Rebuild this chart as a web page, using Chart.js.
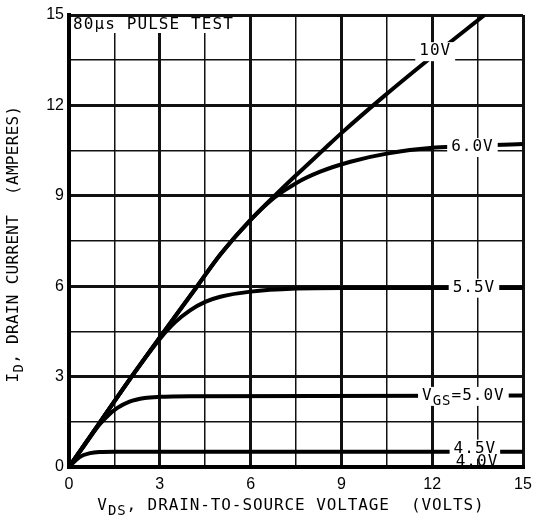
<!DOCTYPE html>
<html>
<head>
<meta charset="utf-8">
<script src="https://cdn.jsdelivr.net/npm/chart.js@4.4.0/dist/chart.umd.min.js"></script>
<style>
    html, body { margin: 0; padding: 0; background: #fff; }
</style>
</head>
<body>
<canvas id="caracteristique" width="535" height="522"></canvas>
<script>
// valeurs : VDS (volts) et ID (ampères) pour chaque VGS
var vds10 = [0, 1, 2, 3, 4.2, 5, 6, 7, 7.5, 8.4, 9, 10.4, 11.85, 13.73];
var id10  = [0, 1.45, 2.9, 4.3, 5.95, 7.05, 8.2, 9.2, 9.68, 10.52, 11.08, 12.3, 13.5, 15];

var vds60 = [0, 1, 2, 3, 4.2, 5, 6, 6.8, 7.5, 8.3, 9.3, 10.5, 12.1, 15];
var id60  = [0, 1.45, 2.9, 4.3, 5.95, 7.05, 8.2, 8.95, 9.42, 9.8, 10.13, 10.4, 10.6, 10.72];

var vds55 = [0, 1, 2, 3, 3.5, 4, 4.5, 5, 6, 7.5, 9, 15];
var id55  = [0, 1.45, 2.9, 4.25, 4.8, 5.2, 5.48, 5.65, 5.82, 5.92, 5.94, 5.94];

var vds50 = [0, 0.5, 1, 1.3, 1.6, 2, 2.5, 3, 4, 15];
var id50  = [0, 0.7, 1.4, 1.72, 1.96, 2.17, 2.29, 2.33, 2.35, 2.37];

var vds45 = [0, 0.35, 0.7, 1, 1.5, 15];
var id45  = [0, 0.33, 0.46, 0.5, 0.51, 0.51];

var vds40 = [0, 15];
var id40  = [0, 0];

// étiquettes des courbes et leur place (en coordonnées des axes)
var nomsCourbes = ['10V', '6.0V', '5.5V', 'V_GS=5.0V', '4.5V', '4.0V'];
var etiquetteX  = [12.1, 13.33, 13.38, 13.03, 13.41, 13.48];
var etiquetteY  = [13.8, 10.62, 5.95, 2.36, 0.61, 0.17];
var avecFond    = [true, true, true, true, true, false];

// graduations
var ticksX = [0, 3, 6, 9, 12, 15];
var ticksY = [0, 3, 6, 9, 12, 15];

var titre   = '80µs PULSE TEST';
var titreX  = 'V_DS, DRAIN-TO-SOURCE VOLTAGE  (VOLTS)';
var titreY  = 'I_D, DRAIN CURRENT  (AMPERES)';

var police = '"DejaVu Sans Mono", monospace';

function points(xs, ys) {
    return xs.map(function (x, i) { return { x: x, y: ys[i] }; });
}

function courbe(xs, ys) {
    return {
        data: points(xs, ys),
        borderColor: '#000',
        borderWidth: 4,
        pointRadius: 0,
        cubicInterpolationMode: 'monotone',
        fill: false
    };
}

// découpe "V_GS=5.0V" en morceaux normaux / indices
function morceaux(texte) {
    return texte.split(/(_[A-Z]+)/).filter(function (m) { return m.length; })
        .map(function (m) {
            return m.charAt(0) === '_' ? { t: m.slice(1), sub: true } : { t: m, sub: false };
        });
}

function largeurTexte(ctx, texte, espace) {
    var w = 0;
    morceaux(texte).forEach(function (m) {
        ctx.font = (m.sub ? '14px ' : '16px ') + police;
        ctx.letterSpacing = espace + 'px';
        w += ctx.measureText(m.t).width;
    });
    return w;
}

function ecrire(ctx, texte, x, y, espace) {
    ctx.textBaseline = 'middle';
    ctx.textAlign = 'left';
    morceaux(texte).forEach(function (m) {
        ctx.font = (m.sub ? '14px ' : '16px ') + police;
        ctx.letterSpacing = espace + 'px';
        ctx.fillText(m.t, x, m.sub ? y + 5 : y);
        x += ctx.measureText(m.t).width;
    });
}

function estMajeur(v) {
    return Math.abs(v / 3 - Math.round(v / 3)) < 1e-6;
}

var pluginTextes = {
    id: 'textes',
    afterDatasetsDraw: function (chart) {
        var ctx = chart.ctx;
        var sx = chart.scales.x, sy = chart.scales.y;
        var zone = chart.chartArea;
        ctx.save();
        ctx.fillStyle = '#000';

        // étiquettes des courbes, sur fond blanc
        nomsCourbes.forEach(function (nom, i) {
            var px = sx.getPixelForValue(etiquetteX[i]);
            var py = sy.getPixelForValue(etiquetteY[i]);
            var w = largeurTexte(ctx, nom, 1);
            if (avecFond[i]) {
                ctx.fillStyle = '#fff';
                ctx.fillRect(px - w / 2 - 4, py - 9, w + 8, 19);
            }
            ctx.fillStyle = '#000';
            ecrire(ctx, nom, px - w / 2, py, 1);
        });

        // titre dans le coin haut gauche
        var wt = largeurTexte(ctx, titre, 1.1);
        ctx.fillStyle = '#fff';
        ctx.fillRect(zone.left + 2, zone.top + 2, wt + 14, 16);
        ctx.fillStyle = '#000';
        ecrire(ctx, titre, zone.left + 4, zone.top + 10, 1.1);
        ctx.restore();
    },
    afterDraw: function (chart) {
        var ctx = chart.ctx;
        ctx.save();
        ctx.fillStyle = '#000';
        var wx = largeurTexte(ctx, titreX, 0.9);
        ecrire(ctx, titreX, 291 - wx / 2, 506, 0.9);

        ctx.translate(14, 244);
        ctx.rotate(-Math.PI / 2);
        var wy = largeurTexte(ctx, titreY, 0.3);
        ecrire(ctx, titreY, -wy / 2, 0, 0.3);
        ctx.restore();
    }
};

function axe(valeurs, pad, trait) {
    return {
        type: 'linear',
        min: 0,
        max: 15,
        ticks: {
            stepSize: 1.5,
            autoSkip: false,
            maxRotation: 0,
            padding: pad,
            color: '#000',
            font: { family: '"Liberation Sans", Arial, sans-serif', size: 16 },
            callback: function (v) {
                return valeurs.indexOf(Math.round(v * 100) / 100) >= 0 ? String(v) : '';
            }
        },
        grid: {
            color: '#111',
            drawTicks: trait > 0,
            tickLength: trait,
            tickColor: 'rgba(0,0,0,0)',
            lineWidth: function (c) { return estMajeur(c.tick.value) ? 3 : 1.5; }
        },
        border: { color: '#000', width: 4 }
    };
}

var ctx = document.getElementById('caracteristique');

// trait de graduation invisible pour descendre les nombres sans élargir la marge droite
var axeX = axe(ticksX, 3, 5);
axeX.afterFit = function (scale) { scale.height = 55; };
var axeY = axe(ticksY, 5, 0);
axeY.afterFit = function (scale) { scale.width = 69; };

var monGraphique = new Chart(ctx, {
    type: 'line',
    data: {
        datasets: [
            courbe(vds10, id10),
            courbe(vds60, id60),
            courbe(vds55, id55),
            courbe(vds50, id50),
            courbe(vds45, id45),
            courbe(vds40, id40)
        ]
    },
    options: {
        responsive: false,
        animation: false,
        devicePixelRatio: 1,
        layout: { padding: { top: 15, right: 12, left: 0, bottom: 0 } },
        plugins: {
            legend: { display: false },
            tooltip: { enabled: false }
        },
        scales: { x: axeX, y: axeY }
    },
    plugins: [pluginTextes]
});
</script>
</body>
</html>
